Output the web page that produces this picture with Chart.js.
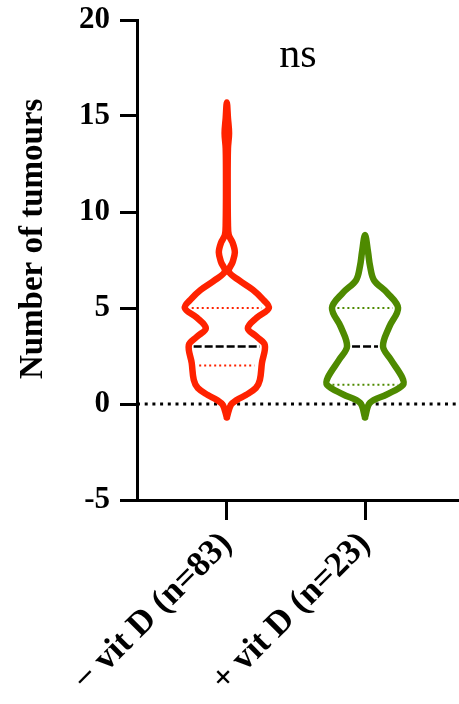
<!DOCTYPE html>
<html>
<head>
<meta charset="utf-8">
<script src="https://cdn.jsdelivr.net/npm/chart.js@4.4.0/dist/chart.umd.min.js"></script>
<style>
  body { margin: 0; background: #fff; }
  #wrap { width: 459px; height: 704px; }
</style>
</head>
<body>
<div id="wrap"><canvas id="grafico"></canvas></div>
<script>
// groups
let grupos = ['\u2212 vit D (n=83)', '+ vit D (n=23)'];
let cores = ['#ff2200', '#4e8a00'];

// violin outline: level (tumours) and half width (in group units)
let nivelMenos = [-0.7, -0.05, 0.21, 0.47, 0.83, 1.25, 2.13, 3.07, 3.5, 3.95, 4.5, 5.0, 5.5, 5.95, 6.45, 6.9, 7.4, 7.9, 8.4, 8.8, 9.4, 11.5, 13.3, 14.1, 14.9, 15.7];
let largMenos = [0, 0.029, 0.072, 0.138, 0.21, 0.239, 0.254, 0.275, 0.217, 0.152, 0.217, 0.304, 0.254, 0.188, 0.087, 0.015, 0.042, 0.058, 0.042, 0.014, 0.008, 0.006, 0.008, 0.016, 0.008, 0];
let nivelMais = [-0.7, 0.06, 0.5, 1.0, 1.4, 2.3, 3.0, 4.0, 5.0, 5.8, 6.45, 7.2, 7.9, 8.8];
let largMais = [0, 0.036, 0.159, 0.275, 0.268, 0.188, 0.130, 0.174, 0.239, 0.159, 0.065, 0.036, 0.022, 0];

// quartiles and the half width of their lines
let q1 = [2, 1];
let mediana = [3, 3];
let q3 = [5, 5];
let largQ1 = [0.20, 0.236];
let largMed = [0.24, 0.094];
let largQ3 = [0.254, 0.2];

let yTicks = [-5, 0, 5, 10, 15, 20];

function contorno(pos, niveis, larg) {
    let pts = [];
    for (let i = 0; i < niveis.length; i++) pts.push({x: pos + larg[i], y: niveis[i]});
    for (let i = niveis.length - 2; i >= 0; i--) pts.push({x: pos - larg[i], y: niveis[i]});
    return pts;
}

function linha(pos, nivel, larg, cor, dash, w) {
    return {
        data: [{x: pos - larg, y: nivel}, {x: pos + larg, y: nivel}],
        showLine: true, borderColor: cor, borderWidth: w, borderDash: dash,
        pointRadius: 0, tension: 0, order: 1
    };
}

let datasets = [];
let perfis = [[nivelMenos, largMenos], [nivelMais, largMais]];
for (let g = 0; g < grupos.length; g++) {
    let pos = g + 1;
    datasets.push({
        data: contorno(pos, perfis[g][0], perfis[g][1]),
        showLine: true, borderColor: cores[g], borderWidth: 6.5,
        borderJoinStyle: 'round', borderCapStyle: 'round',
        pointRadius: 0, tension: 0.35, order: 2
    });
    datasets.push(linha(pos, q1[g], largQ1[g], cores[g], [2, 3], 2));
    datasets.push(linha(pos, q3[g], largQ3[g], cores[g], [2, 3], 2));
    datasets.push(linha(pos, mediana[g], largMed[g], '#000', [8, 3], 2.5));
}
// dotted zero line
datasets.push({
    data: [{x: 0.35, y: 0}, {x: 2.68, y: 0}],
    showLine: true, borderColor: '#000', borderWidth: 3, borderDash: [3, 4.7],
    pointRadius: 0, order: 5
});

const textos = {
    id: 'textos',
    afterDraw(chart) {
        let ctx = chart.ctx;
        let a = chart.chartArea;
        let y = chart.scales.y;
        ctx.save();
        ctx.fillStyle = '#000';
        ctx.textAlign = 'center';
        ctx.textBaseline = 'alphabetic';
        ctx.font = '42px "Liberation Serif"';
        ctx.fillText('ns', (a.left + a.right) / 2, y.getPixelForValue(17.55));
        ctx.translate(33, y.getPixelForValue(8.6));
        ctx.rotate(-Math.PI / 2);
        ctx.textBaseline = 'middle';
        ctx.font = 'bold 33px "Liberation Serif"';
        ctx.fillText('Number of tumours', 0, 0);
        ctx.restore();
    }
};

new Chart(document.getElementById('grafico'), {
    type: 'scatter',
    data: { datasets: datasets },
    options: {
        responsive: true, maintainAspectRatio: false, animation: false,
        layout: { padding: { top: 20, right: 0, left: 0, bottom: 0 } },
        plugins: { legend: { display: false }, tooltip: { enabled: false } },
        scales: {
            x: {
                type: 'linear', min: 0.35, max: 2.68,
                afterBuildTicks: s => { s.ticks = [{value: 1}, {value: 2}]; },
                afterFit: s => { s.height = 204; s.paddingLeft = 0; s.paddingRight = 0; },
                grid: { drawOnChartArea: false, tickLength: 20, lineWidth: 3, color: '#000' },
                border: { width: 3, color: '#000' },
                ticks: {
                    callback: v => grupos[v - 1],
                    minRotation: 45, maxRotation: 45, padding: 4,
                    color: '#000', font: { family: 'Liberation Serif', weight: 'bold', size: 35 }
                }
            },
            y: {
                min: -5, max: 20,
                afterBuildTicks: s => { s.ticks = yTicks.map(v => ({value: v})); },
                afterFit: s => { s.width = 137; s.paddingTop = 0; s.paddingBottom = 0; },
                grid: { drawOnChartArea: false, tickLength: 17, lineWidth: 3, color: '#000' },
                border: { width: 3, color: '#000' },
                ticks: {
                    padding: 10, color: '#000',
                    font: { family: 'Liberation Serif', weight: 'bold', size: 31 }
                }
            }
        }
    },
    plugins: [textos]
});
</script>
</body>
</html>
